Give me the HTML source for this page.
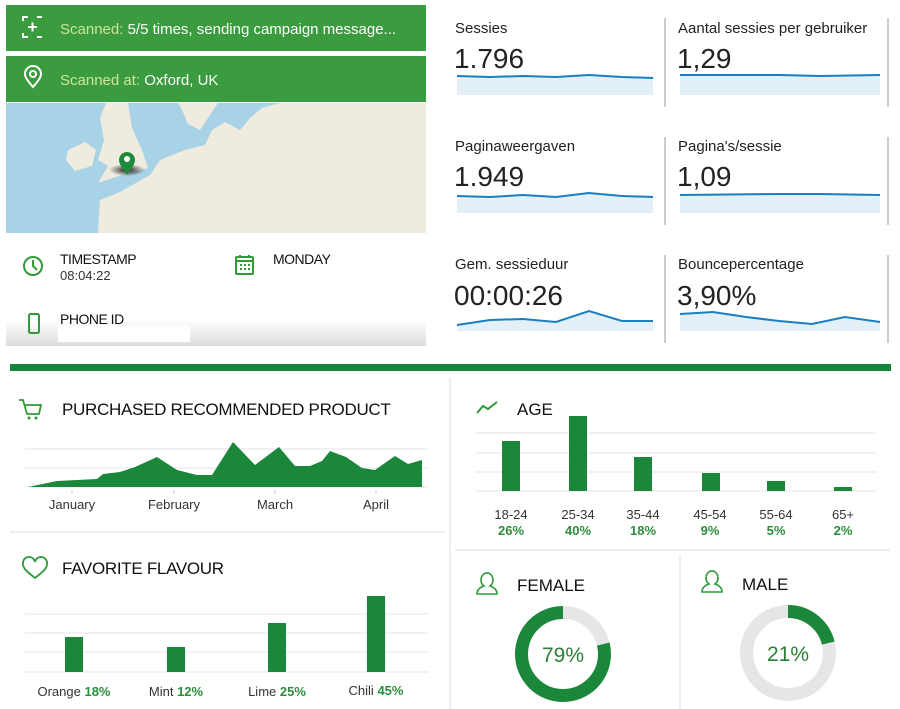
<!DOCTYPE html>
<html><head><meta charset="utf-8"><style>
html,body{margin:0;padding:0;background:#fff;}
svg{display:block;}
text{font-family:"Liberation Sans",sans-serif;}
</style></head><body>
<svg width="900" height="709" viewBox="0 0 900 709" xmlns="http://www.w3.org/2000/svg">
<defs>
<linearGradient id="fade" x1="0" y1="0" x2="0" y2="1"><stop offset="0" stop-color="#fff"/><stop offset="1" stop-color="#dcdcdc"/></linearGradient>
<radialGradient id="sh" cx="0.5" cy="0.5" r="0.5"><stop offset="0" stop-color="#000" stop-opacity="0.9"/><stop offset="1" stop-color="#000" stop-opacity="0"/></radialGradient>
</defs>
<rect width="900" height="709" fill="#fff"/>
<rect x="6" y="320" width="420" height="26" fill="url(#fade)"/>
<rect x="6" y="5" width="420" height="46" fill="#3b9b3f"/>
<rect x="6" y="56" width="420" height="46" fill="#3b9b3f"/>
<g fill="none" stroke="#fff" stroke-width="2">
<path d="M23 21v-4h5M42 17h-5M23 33v4h5M42 37h-5"/><path d="M28 27h9M32.5 22.5v9"/>
<path d="M33 87c-6-7-8-10-8-13a8 8 0 0 1 16 0c0 3-2 6-8 13z"/><circle cx="33" cy="74" r="3"/>
</g>
<text x="60" y="34" font-size="15" fill="#cfe59a">Scanned: <tspan fill="#fff">5/5 times, sending campaign message...</tspan></text>
<text x="60" y="85" font-size="15" fill="#cfe59a">Scanned at: <tspan fill="#fff">Oxford, UK</tspan></text>
<rect x="6" y="103" width="420" height="130" fill="#a8d2e6"/>
<g fill="#efebdf">
<polygon points="98,233 100,200 120,192 150,175 160,160 185,150 205,145 212,130 225,122 240,130 250,118 262,108 280,103 426,103 426,233"/>
<polygon points="100,118 106,103 128,103 132,128 142,150 148,168 125,174 98,183 108,166 98,160 104,140"/>
<polygon points="68,150 85,142 96,150 92,166 75,171 66,160"/>
<polygon points="178,103 218,103 208,118 200,130 188,124 183,112"/>
</g>
<ellipse cx="127" cy="170" rx="18" ry="6" fill="url(#sh)"/>
<path d="M127 175c-6-8-8-12-8-15a8 8 0 0 1 16 0c0 3-2 7-8 15z" fill="#1f8a3c"/><circle cx="127" cy="159" r="3" fill="#fff"/>
<g fill="none" stroke="#2e9a3a" stroke-width="2">
<circle cx="33" cy="266" r="9"/><path d="M33 260v6l4 4"/>
<rect x="236" y="257" width="17" height="17" rx="1"/><path d="M236 261h17M240 255v3M249 255v3"/>
<rect x="29" y="314" width="10" height="19" rx="1.5"/>
</g>
<g fill="#2e9a3a"><rect x="240" y="264" width="2" height="2"/><rect x="244" y="264" width="2" height="2"/><rect x="248" y="264" width="2" height="2"/><rect x="240" y="268" width="2" height="2"/><rect x="244" y="268" width="2" height="2"/><rect x="248" y="268" width="2" height="2"/></g>
<text x="60" y="264" font-size="14" fill="#111" letter-spacing="-0.5">TIMESTAMP</text>
<text x="60" y="280" font-size="13" fill="#333">08:04:22</text>
<text x="273" y="264" font-size="14" fill="#111" letter-spacing="-0.5">MONDAY</text>
<text x="60" y="324" font-size="14" fill="#111" letter-spacing="-0.5">PHONE ID</text>
<rect x="58" y="326" width="132" height="16" fill="#fff"/>
<g fill="#222">
<text x="455" y="33" font-size="15">Sessies</text><text x="454" y="68" font-size="28">1.796</text>
<text x="678" y="33" font-size="15">Aantal sessies per gebruiker</text><text x="677" y="68" font-size="28">1,29</text>
<text x="455" y="151" font-size="15">Paginaweergaven</text><text x="454" y="186" font-size="28">1.949</text>
<text x="678" y="151" font-size="15">Pagina's/sessie</text><text x="677" y="186" font-size="28">1,09</text>
<text x="455" y="269" font-size="15">Gem. sessieduur</text><text x="454" y="305" font-size="28">00:00:26</text>
<text x="678" y="269" font-size="15">Bouncepercentage</text><text x="677" y="305" font-size="28">3,90%</text>
</g>
<g stroke="#bbb" stroke-width="1.5"><line x1="665" y1="18" x2="665" y2="107"/><line x1="888" y1="18" x2="888" y2="107"/><line x1="665" y1="137" x2="665" y2="225"/><line x1="888" y1="137" x2="888" y2="225"/><line x1="665" y1="255" x2="665" y2="343"/><line x1="888" y1="255" x2="888" y2="343"/></g>
<g fill="#e3f0f7">
<polygon points="457,76 490,77 523,76 556,77 589,75 622,77 653,78 653,95 457,95"/>
<polygon points="680,75 880,75 880,95 680,95"/>
<polygon points="457,196 490,197 523,195 556,197 589,193 622,196 653,197 653,213 457,213"/>
<polygon points="680,195 880,195 880,213 680,213"/>
<polygon points="457,325 490,320 523,319 556,322 589,311 622,321 653,321 653,331 457,331"/>
<polygon points="680,314 713,312 746,317 779,321 812,324 845,317 880,322 880,331 680,331"/>
</g>
<g fill="none" stroke="#1a7fc1" stroke-width="2">
<polyline points="457,76 490,77 523,76 556,77 589,75 622,77 653,78"/>
<polyline points="680,75 780,75 820,76 880,75"/>
<polyline points="457,196 490,197 523,195 556,197 589,193 622,196 653,197"/>
<polyline points="680,195 780,194 820,194 880,195"/>
<polyline points="457,325 490,320 523,319 556,322 589,311 622,321 653,321"/>
<polyline points="680,314 713,312 746,317 779,321 812,324 845,317 880,322"/>
</g>
<rect x="10" y="364" width="881" height="7" fill="#16843a"/>
<line x1="450" y1="378" x2="450" y2="709" stroke="#eee" stroke-width="2"/>
<line x1="10" y1="532" x2="445" y2="532" stroke="#eee" stroke-width="2"/>
<line x1="455" y1="550" x2="890" y2="550" stroke="#eee" stroke-width="2"/>
<line x1="680" y1="555" x2="680" y2="709" stroke="#eee" stroke-width="2"/>
<g fill="none" stroke="#2e9a3a" stroke-width="1.8"><path d="M19 400h4l4 14h12l2-9H25"/></g>
<circle cx="29" cy="418" r="1.5" fill="#2e9a3a"/><circle cx="36" cy="418" r="1.5" fill="#2e9a3a"/>
<text x="62" y="415" font-size="17" fill="#111" letter-spacing="-0.3">PURCHASED RECOMMENDED PRODUCT</text>
<g stroke="#e4e4e4"><line x1="25" y1="449" x2="428" y2="449"/><line x1="25" y1="468" x2="428" y2="468"/><line x1="25" y1="487" x2="428" y2="487"/></g>
<polygon fill="#1b873b" points="28,487 57,481 97,479 103,474 120,472 135,467 157,457 177,470 197,475 212,475 233,442 255,465 279,447 295,466 310,466 322,461 330,451 346,457 362,468 375,470 395,456 408,464 422,460 422,487"/>
<g stroke="#ccc"><line x1="72" y1="490" x2="72" y2="494"/><line x1="174" y1="490" x2="174" y2="494"/><line x1="275" y1="490" x2="275" y2="494"/><line x1="376" y1="490" x2="376" y2="494"/></g>
<g font-size="13" fill="#333" text-anchor="middle"><text x="72" y="509">January</text><text x="174" y="509">February</text><text x="275" y="509">March</text><text x="376" y="509">April</text></g>
<path d="M35 578c-9-7-12-10-12-14a6 6 0 0 1 12-2a6 6 0 0 1 12 2c0 4-3 7-12 14z" fill="none" stroke="#2e9a3a" stroke-width="1.8"/>
<text x="62" y="574" font-size="17" fill="#111" letter-spacing="-0.3">FAVORITE FLAVOUR</text>
<g stroke="#e4e4e4"><line x1="25" y1="614" x2="428" y2="614"/><line x1="25" y1="633" x2="428" y2="633"/><line x1="25" y1="652" x2="428" y2="652"/><line x1="25" y1="672" x2="428" y2="672"/></g>
<g fill="#1b873b"><rect x="65" y="637" width="18" height="35"/><rect x="167" y="647" width="18" height="25"/><rect x="268" y="623" width="18" height="49"/><rect x="367" y="596" width="18" height="76"/></g>
<g font-size="13" fill="#333" text-anchor="middle"><text x="74" y="696">Orange <tspan fill="#2a8f3a" font-weight="bold">18%</tspan></text><text x="176" y="696">Mint <tspan fill="#2a8f3a" font-weight="bold">12%</tspan></text><text x="277" y="696">Lime <tspan fill="#2a8f3a" font-weight="bold">25%</tspan></text><text x="376" y="695">Chili <tspan fill="#2a8f3a" font-weight="bold">45%</tspan></text></g>
<polyline points="477,413 483,406 488,409 497,402" fill="none" stroke="#2e9a3a" stroke-width="2"/>
<text x="517" y="415" font-size="17" fill="#111">AGE</text>
<g stroke="#e4e4e4"><line x1="475" y1="433" x2="876" y2="433"/><line x1="475" y1="453" x2="876" y2="453"/><line x1="475" y1="472" x2="876" y2="472"/><line x1="475" y1="491" x2="876" y2="491"/></g>
<g fill="#1b873b"><rect x="502" y="441" width="18" height="50"/><rect x="569" y="416" width="18" height="75"/><rect x="634" y="457" width="18" height="34"/><rect x="702" y="473" width="18" height="18"/><rect x="767" y="481" width="18" height="10"/><rect x="834" y="487" width="18" height="4"/></g>
<g font-size="13" text-anchor="middle"><g fill="#333"><text x="511" y="519">18-24</text><text x="578" y="519">25-34</text><text x="643" y="519">35-44</text><text x="710" y="519">45-54</text><text x="776" y="519">55-64</text><text x="843" y="519">65+</text></g>
<g fill="#2a8f3a" font-weight="bold"><text x="511" y="535">26%</text><text x="578" y="535">40%</text><text x="643" y="535">18%</text><text x="710" y="535">9%</text><text x="776" y="535">5%</text><text x="843" y="535">2%</text></g></g>
<g fill="none" stroke="#2e9a3a" stroke-width="1.6">
<path d="M477 594c0-5 4-7 7-8a6 7 0 1 1 6 0c3 1 7 3 7 8z"/>
<path d="M702 592c0-5 4-7 7-8a6 7 0 1 1 6 0c3 1 7 3 7 8z"/>
</g>
<text x="517" y="591" font-size="17" fill="#111">FEMALE</text>
<text x="742" y="590" font-size="17" fill="#111">MALE</text>
<circle cx="563" cy="654" r="41.5" fill="none" stroke="#e6e6e8" stroke-width="13"/>
<circle cx="563" cy="654" r="41.5" fill="none" stroke="#1b873b" stroke-width="13" stroke-dasharray="206 261" stroke-dashoffset="-55" transform="rotate(-90 563 654)"/>
<circle cx="788" cy="653" r="41.5" fill="none" stroke="#e6e6e8" stroke-width="13"/>
<circle cx="788" cy="653" r="41.5" fill="none" stroke="#1b873b" stroke-width="13" stroke-dasharray="55 261" transform="rotate(-90 788 653)"/>
<text x="563" y="662" font-size="21" fill="#2a7f34" text-anchor="middle">79%</text>
<text x="788" y="661" font-size="21" fill="#2a7f34" text-anchor="middle">21%</text>
</svg>
</body></html>
